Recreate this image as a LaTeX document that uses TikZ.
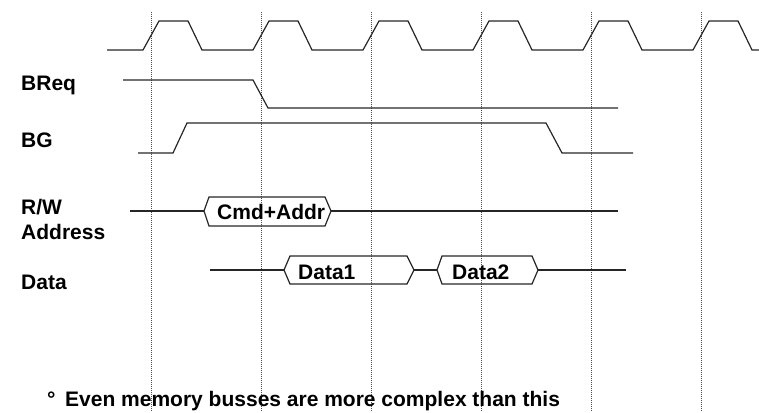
\documentclass[tikz,border=0pt]{standalone}
\usepackage{fontspec}
\setmainfont{Liberation Sans}
\begin{document}
\begin{tikzpicture}[x=1pt,y=-1pt,
  wave/.style={line width=1.2pt,black!85,line join=miter},
  grid/.style={line width=0.7pt,black!70,dash pattern=on 1pt off 1pt},
  lbl/.style={font=\fontsize{21}{25}\selectfont\bfseries,anchor=base west,inner sep=0pt},
  buslbl/.style={lbl}]
\useasboundingbox (0,0) rectangle (759,412);

% clock-edge reference lines
\foreach \k in {0,...,5}
  \draw[grid] (151+110*\k,12) -- (151+110*\k,412);

% clock
\draw[wave] (107,50)
  \foreach \k in {0,...,5} {
    -- (143+110*\k,50) -- (159+110*\k,21) -- (188+110*\k,21) -- (202+110*\k,50)
  } -- (759,50);

% signal names
\node[lbl] (breq) at (21,90) {BReq};
\node[lbl] (bg)   at (21,147) {BG};
\node[lbl] (rw)   at (21,214) {R/W};
\node[lbl] (addr) at (21,239) {Address};
\node[lbl] (data) at (21,289) {Data};

% bus request
\draw[wave] (123,80) -- (253,80) -- (268,108) -- (618,108);
% bus grant
\draw[wave] (138,153) -- (173,153) -- (187,123) -- (546,123) -- (562,153) -- (633,153);

% R/W + address bus
\draw[wave] (130,211) -- (204,211);
\draw[wave] (204,211) -- (209,197) -- (325,197) -- (331,211) -- (325,226) -- (209,226) -- cycle;
\draw[wave] (331,211) -- (618,211);
\node[buslbl] (cmd) at (217,219.5) {Cmd+Addr};

% data bus
\draw[wave] (210,270) -- (284,270);
\draw[wave] (284,270) -- (290,256) -- (407,256) -- (414,270) -- (407,284) -- (290,284) -- cycle;
\draw[wave] (414,270) -- (437,270);
\draw[wave] (437,270) -- (442,256) -- (532,256) -- (538,270) -- (532,284) -- (442,284) -- cycle;
\draw[wave] (538,270) -- (626,270);
\node[buslbl] (d1) at (298,279) {Data1};
\node[buslbl] (d2) at (452,279) {Data2};

% note
\node[lbl] (dot)  at (47,406) {°};
\node[lbl] (note) at (65,406) {Even memory busses are more complex than this};
\end{tikzpicture}
\end{document}
